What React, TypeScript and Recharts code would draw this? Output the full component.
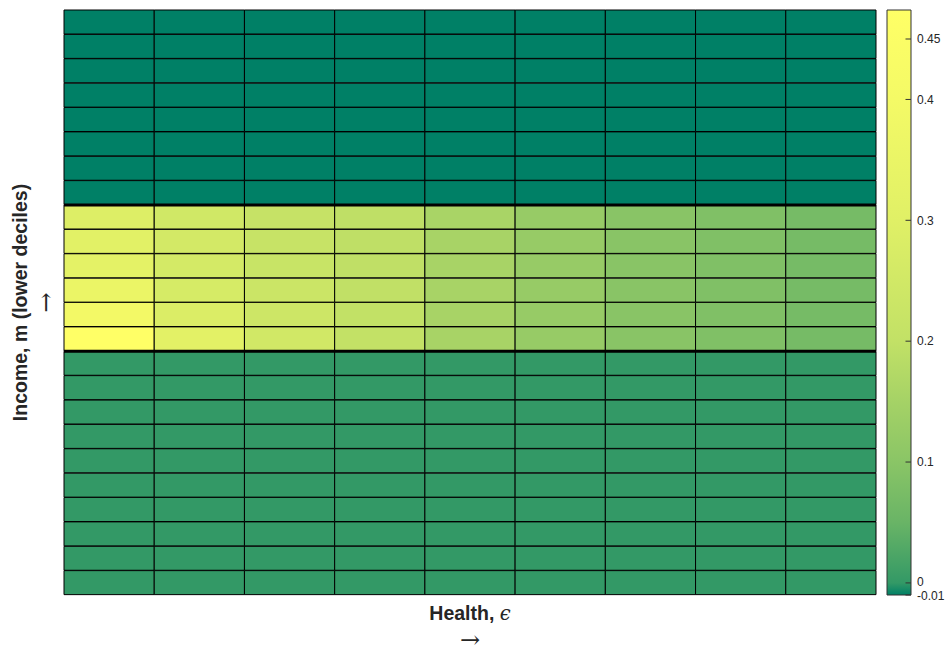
import React from 'react';
import { BarChart, Bar, Cell, XAxis, YAxis, ReferenceLine, Label } from 'recharts';

// health states across, income grid points up the side (lowest first)
const healthStates = ['h1', 'h2', 'h3', 'h4', 'h5', 'h6', 'h7', 'h8', 'h9'];
const incomeRows = [
  'm1', 'm2', 'm3', 'm4', 'm5', 'm6', 'm7', 'm8', 'm9', 'm10', 'm11', 'm12',
  'm13', 'm14', 'm15', 'm16', 'm17', 'm18', 'm19', 'm20', 'm21', 'm22', 'm23', 'm24',
];

// effect per cell, one row per income point, lowest income first
const effect: number[][] = [
  [0, 0, 0, 0, 0, 0, 0, 0, 0],
  [0, 0, 0, 0, 0, 0, 0, 0, 0],
  [0, 0, 0, 0, 0, 0, 0, 0, 0],
  [0, 0, 0, 0, 0, 0, 0, 0, 0],
  [0, 0, 0, 0, 0, 0, 0, 0, 0],
  [0, 0, 0, 0, 0, 0, 0, 0, 0],
  [0, 0, 0, 0, 0, 0, 0, 0, 0],
  [0, 0, 0, 0, 0, 0, 0, 0, 0],
  [0, 0, 0, 0, 0, 0, 0, 0, 0],
  [0, 0, 0, 0, 0, 0, 0, 0, 0],
  [0.474, 0.315, 0.25, 0.203, 0.155, 0.124, 0.099, 0.085, 0.07],
  [0.395, 0.283, 0.237, 0.2, 0.155, 0.124, 0.099, 0.085, 0.07],
  [0.355, 0.267, 0.23, 0.198, 0.155, 0.124, 0.099, 0.085, 0.07],
  [0.32, 0.26, 0.22, 0.196, 0.155, 0.124, 0.099, 0.085, 0.07],
  [0.31, 0.257, 0.217, 0.195, 0.155, 0.124, 0.099, 0.085, 0.07],
  [0.29, 0.247, 0.213, 0.195, 0.157, 0.124, 0.099, 0.085, 0.07],
  [-0.01, -0.01, -0.01, -0.01, -0.01, -0.01, -0.01, -0.01, -0.01],
  [-0.01, -0.01, -0.01, -0.01, -0.01, -0.01, -0.01, -0.01, -0.01],
  [-0.01, -0.01, -0.01, -0.01, -0.01, -0.01, -0.01, -0.01, -0.01],
  [-0.01, -0.01, -0.01, -0.01, -0.01, -0.01, -0.01, -0.01, -0.01],
  [-0.01, -0.01, -0.01, -0.01, -0.01, -0.01, -0.01, -0.01, -0.01],
  [-0.01, -0.01, -0.01, -0.01, -0.01, -0.01, -0.01, -0.01, -0.01],
  [-0.01, -0.01, -0.01, -0.01, -0.01, -0.01, -0.01, -0.01, -0.01],
  [-0.01, -0.01, -0.01, -0.01, -0.01, -0.01, -0.01, -0.01, -0.01],
];

// rows bounded by the thick lines
const bandFirstRow = 'm11';
const bandLastRow = 'm16';

// colour scale: summer-style map, red channel at each stop
const scaleStops = [-0.01, 0, 0.05, 0.1, 0.15, 0.2, 0.3, 0.4, 0.474];
const scaleRed = [0, 51, 105, 138, 165, 194, 224, 244, 255];
const colorbarTicks = [-0.01, 0, 0.1, 0.2, 0.3, 0.4, 0.45];

const cMin = scaleStops[0];
const cMax = scaleStops[scaleStops.length - 1];

const summer = (r: number) => `rgb(${Math.round(r)},${Math.round(127.5 + r / 2)},102)`;

const colorFor = (v: number) => {
  if (v <= cMin) return summer(scaleRed[0]);
  for (let i = 1; i < scaleStops.length; i++) {
    if (v <= scaleStops[i]) {
      const f = (v - scaleStops[i - 1]) / (scaleStops[i] - scaleStops[i - 1]);
      return summer(scaleRed[i - 1] + f * (scaleRed[i] - scaleRed[i - 1]));
    }
  }
  return summer(scaleRed[scaleRed.length - 1]);
};

const gridData = incomeRows.map((name) => {
  const row: Record<string, any> = { name };
  healthStates.forEach((h) => (row[h] = 1));
  return row;
});

const colorbarData = [{ name: 'scale', span: [cMin, cMax] }];

const FONT = '"Liberation Sans", Arial, Helvetica, sans-serif';
const INK = '#262626';

const IncomeLabel = ({ viewBox }: any) => {
  const cy = viewBox.y + viewBox.height / 2;
  return (
    <g>
      <text
        transform={`translate(27,${cy}) rotate(-90)`}
        textAnchor="middle"
        fontFamily={FONT}
        fontWeight="bold"
        fontSize={19.5}
        fill={INK}
      >
        Income, m (lower deciles)
      </text>
      <text
        transform={`translate(54,${cy}) rotate(-90)`}
        textAnchor="middle"
        fontFamily='"DejaVu Serif", serif'
        fontSize={24}
        fill={INK}
      >
        →
      </text>
    </g>
  );
};

const HealthLabel = ({ viewBox }: any) => {
  const cx = viewBox.x + viewBox.width / 2;
  return (
    <g>
      <text x={cx} y={620} textAnchor="middle" fontFamily={FONT} fontWeight="bold" fontSize={19.5} fill={INK}>
        Health,{' '}
        <tspan fontFamily='"DejaVu Serif", serif' fontStyle="italic" fontWeight="normal">
          ϵ
        </tspan>
      </text>
      <text x={cx} y={648} textAnchor="middle" fontFamily='"DejaVu Serif", serif' fontSize={24} fill={INK}>
        →
      </text>
    </g>
  );
};

// ticks sit inside the bar's right edge; the two bottom labels are spread a touch
const ColorbarTick = ({ x, y, payload }: any) => {
  const nudge = payload.value === 0 ? -1 : payload.value < 0 ? 1 : 0;
  return (
    <g>
      <line x1={x - 5.5} x2={x} y1={y} y2={y} stroke="#333" strokeWidth={1} />
      <text x={x + 6} y={y + nudge} dy="0.35em" fontFamily={FONT} fontSize={12} fill={INK}>
        {payload.value}
      </text>
    </g>
  );
};

export default function App() {
  return (
    <div style={{ position: 'fixed', left: 0, top: 0, width: 948, height: 653, background: '#fff' }}>
      <BarChart
        width={948}
        height={653}
        data={gridData}
        layout="vertical"
        margin={{ top: 10, right: 72, bottom: 0, left: 0 }}
        barCategoryGap={0}
        barGap={0}
      >
        <XAxis type="number" domain={[0, healthStates.length]} tick={false} tickLine={false} axisLine={false} height={58}>
          <Label content={<HealthLabel />} />
        </XAxis>
        <YAxis
          type="category"
          dataKey="name"
          reversed
          width={64}
          tick={false}
          tickLine={false}
          axisLine={false}
        >
          <Label content={<IncomeLabel />} />
        </YAxis>
        {healthStates.map((h, j) => (
          <Bar key={h} dataKey={h} stackId="grid" isAnimationActive={false}>
            {incomeRows.map((m, i) => (
              <Cell key={m} fill={colorFor(effect[i][j])} stroke="#000" strokeWidth={1} />
            ))}
          </Bar>
        ))}
        <ReferenceLine y={bandLastRow} position="start" stroke="#000" strokeWidth={3} />
        <ReferenceLine y={bandFirstRow} position="end" stroke="#000" strokeWidth={3} />
      </BarChart>

      <div style={{ position: 'absolute', left: 880, top: 0 }}>
        <BarChart
          width={68}
          height={653}
          data={colorbarData}
          margin={{ top: 10, right: 2, bottom: 58, left: 7 }}
          barCategoryGap={0}
        >
          <defs>
            <linearGradient id="colorbarFill" x1="0" y1="1" x2="0" y2="0">
              {scaleStops.map((s, i) => (
                <stop key={s} offset={(s - cMin) / (cMax - cMin)} stopColor={summer(scaleRed[i])} />
              ))}
            </linearGradient>
          </defs>
          <XAxis dataKey="name" type="category" hide />
          <YAxis
            type="number"
            orientation="right"
            domain={[cMin, cMax]}
            ticks={colorbarTicks}
            width={35}
            tickSize={0}
            tickMargin={0}
            axisLine={false}
            tickLine={false}
            tick={<ColorbarTick />}
            interval={0}
          />
          <Bar dataKey="span" fill="url(#colorbarFill)" stroke="#333" strokeWidth={1} isAnimationActive={false} />
        </BarChart>
      </div>
    </div>
  );
}
